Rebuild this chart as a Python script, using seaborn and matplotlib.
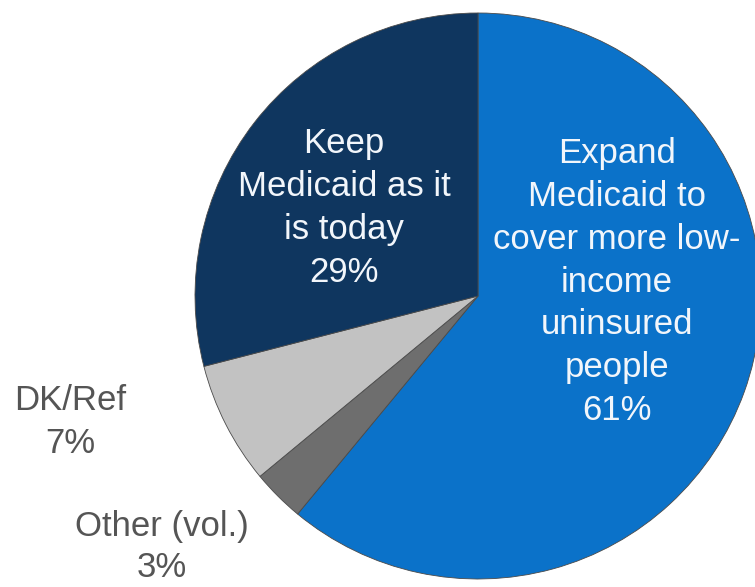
import matplotlib
matplotlib.use("Agg")
import matplotlib.pyplot as plt
import seaborn as sns

categories = ["Expand\nMedicaid to\ncover more low-\nincome\nuninsured\npeople", "Other (vol.)", "DK/Ref", "Keep\nMedicaid as it\nis today"]
values = [61, 3, 7, 29]
colors = ["#0B72C9", "#6E6E6E", "#C2C2C2", "#0F365F"]

sns.set_theme(style="white")
plt.rcParams['font.family'] = ['Liberation Sans', 'DejaVu Sans']

W, H = 755, 587
fig = plt.figure(figsize=(W / 100, H / 100), dpi=100)
cx, cy, r = 478, 296, 283
ax = fig.add_axes([(cx - r) / W, (H - cy - r) / H, 2 * r / W, 2 * r / H])

wedges, _ = ax.pie(values, colors=colors, startangle=90, counterclock=False,
                   radius=1, wedgeprops=dict(edgecolor="#4a4a4a", linewidth=0.6))
for w in wedges:
    w.set_clip_on(False)
ax.set_xlim(-1, 1)
ax.set_ylim(-1, 1)
ax.set_aspect("equal")
ax.axis("off")

def pos(px, py):
    return (px - cx) / r, (cy - py) / r

fs = 25
ls = 1.38
white = "#F2F6FB"
gray = "#555555"
x, y = pos(617, 282)
ax.text(x, y, f"{categories[0]}\n{values[0]}%", ha="center", va="center",
        color=white, fontsize=fs, linespacing=ls)
x, y = pos(344, 208)
ax.text(x, y, f"{categories[3]}\n{values[3]}%", ha="center", va="center",
        color=white, fontsize=fs, linespacing=ls)
x, y = pos(70, 422)
ax.text(x, y, f"{categories[2]}\n{values[2]}%", ha="center", va="center",
        color=gray, fontsize=fs, linespacing=ls, clip_on=False)
x, y = pos(162, 547)
ax.text(x, y, f"{categories[1]}\n{values[1]}%", ha="center", va="center",
        color=gray, fontsize=fs, linespacing=1.32, clip_on=False)

fig.savefig("out.png", dpi=100)
